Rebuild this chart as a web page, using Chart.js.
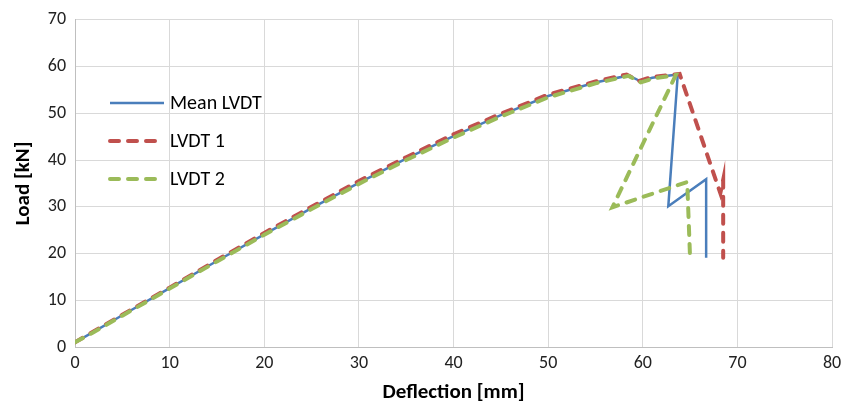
<!DOCTYPE html>
<html>
<head>
<meta charset="utf-8">
<script src="https://cdn.jsdelivr.net/npm/chart.js@4"></script>
<style>
  html, body { margin: 0; padding: 0; background: #fff; }
  #wrap { width: 844px; height: 405px; position: relative; }
</style>
</head>
<body>
<div id="wrap"><canvas id="loadChart"></canvas></div>
<script>
// Load-deflection readings
const meanX = [0, 2, 5, 10, 15, 20, 25, 30, 35, 40, 45, 50, 55, 58.5, 59.8, 61, 63.7, 62.7, 66.7, 66.7];
const meanY = [1, 3.3, 6.8, 12.6, 18.4, 24.1, 29.7, 35.1, 40.3, 45.1, 49.6, 53.7, 56.6, 58.1, 56.8, 57.6, 58.3, 30.1, 35.9, 19.1];

const lvdt1X = [0, 2, 5, 10, 15, 20, 25, 30, 35, 40, 45, 50, 55, 58.3, 59.6, 61, 63.9, 68.2, 68.5, 68.5];
const lvdt1Y = [1, 3.4, 6.9, 12.7, 18.6, 24.4, 30.0, 35.5, 40.6, 45.5, 49.9, 54.0, 56.8, 58.3, 56.9, 57.8, 58.4, 32.9, 35.8, 19.1];

const lvdt2X = [0, 2, 5, 10, 15, 20, 25, 30, 35, 40, 45, 50, 55, 58.5, 59.8, 61, 63.5, 56.8, 64.7, 65.0];
const lvdt2Y = [1, 3.2, 6.7, 12.5, 18.3, 24.0, 29.5, 34.9, 40.0, 44.8, 49.3, 53.4, 56.4, 58.0, 56.6, 57.4, 58.2, 29.9, 35.3, 19.1];

const seriesNames = ['Mean LVDT', 'LVDT 1', 'LVDT 2'];
const xTicks = [0, 10, 20, 30, 40, 50, 60, 70, 80];
const yTicks = [0, 10, 20, 30, 40, 50, 60, 70];

const FONT = "Carlito, Lato, sans-serif";

function toPoints(xs, ys) {
    return xs.map((x, i) => ({ x: x, y: ys[i] }));
}

// legend drawn inside the plot, left side
const insideLegend = {
    id: 'insideLegend',
    afterDraw(chart) {
        const ctx = chart.ctx;
        const rows = [103, 141, 179];
        chart.data.datasets.forEach((ds, i) => {
            const y = rows[i];
            ctx.save();
            ctx.strokeStyle = ds.borderColor;
            ctx.lineWidth = ds.borderWidth;
            ctx.lineCap = ds.borderCapStyle || 'butt';
            ctx.setLineDash(ds.borderDash || []);
            ctx.beginPath();
            ctx.moveTo(110, y);
            ctx.lineTo(i === 0 ? 164 : 157, y);
            ctx.stroke();
            ctx.setLineDash([]);
            ctx.fillStyle = '#000';
            ctx.font = '20px ' + FONT;
            ctx.textBaseline = 'middle';
            ctx.fillText(ds.label, 170, y + 1);
            ctx.restore();
        });
    }
};

new Chart(document.getElementById('loadChart'), {
    type: 'scatter',
    data: {
        datasets: [
            {
                label: seriesNames[0],
                data: toPoints(meanX, meanY),
                showLine: true,
                borderColor: '#4A7EBB',
                borderWidth: 2.5,
                pointRadius: 0,
                order: 2
            },
            {
                label: seriesNames[1],
                data: toPoints(lvdt1X, lvdt1Y),
                showLine: true,
                borderColor: '#C0504D',
                borderWidth: 4,
                borderDash: [9, 9],
                borderCapStyle: 'round',
                pointRadius: 0,
                order: 1
            },
            {
                label: seriesNames[2],
                data: toPoints(lvdt2X, lvdt2Y),
                showLine: true,
                borderColor: '#9BBB59',
                borderWidth: 4,
                borderDash: [9, 9],
                borderCapStyle: 'round',
                pointRadius: 0,
                order: 0
            }
        ]
    },
    options: {
        responsive: true,
        maintainAspectRatio: false,
        animation: false,
        layout: { padding: { left: 0, right: 12, top: 19, bottom: 0 } },
        plugins: {
            legend: { display: false },
            tooltip: { enabled: false }
        },
        scales: {
            x: {
                type: 'linear',
                min: 0,
                max: 80,
                afterBuildTicks(scale) { scale.ticks = xTicks.map(v => ({ value: v })); },
                afterFit(scale) {
                    scale.height = 58;
                    scale.paddingLeft = 0;
                    scale.paddingRight = 0;
                },
                grid: { color: '#D9D9D9', lineWidth: 1, drawTicks: false },
                border: { color: '#BFBFBF' },
                ticks: { color: '#222', font: { family: FONT, size: 18 }, padding: 6, maxRotation: 0 },
                title: {
                    display: true,
                    text: 'Deflection [mm]',
                    color: '#000',
                    font: { family: FONT, size: 21, weight: 'bold' },
                    padding: { top: 2, bottom: 0 }
                }
            },
            y: {
                type: 'linear',
                min: 0,
                max: 70,
                afterBuildTicks(scale) { scale.ticks = yTicks.map(v => ({ value: v })); },
                afterFit(scale) { scale.width = 75; },
                grid: { color: '#D9D9D9', lineWidth: 1, drawTicks: false },
                border: { color: '#BFBFBF' },
                ticks: { color: '#222', font: { family: FONT, size: 18 }, padding: 9 },
                title: {
                    display: true,
                    text: 'Load [kN]',
                    color: '#000',
                    font: { family: FONT, size: 21, weight: 'bold' },
                    padding: { top: 11, bottom: 0 }
                }
            }
        }
    },
    plugins: [insideLegend]
});
</script>
</body>
</html>
